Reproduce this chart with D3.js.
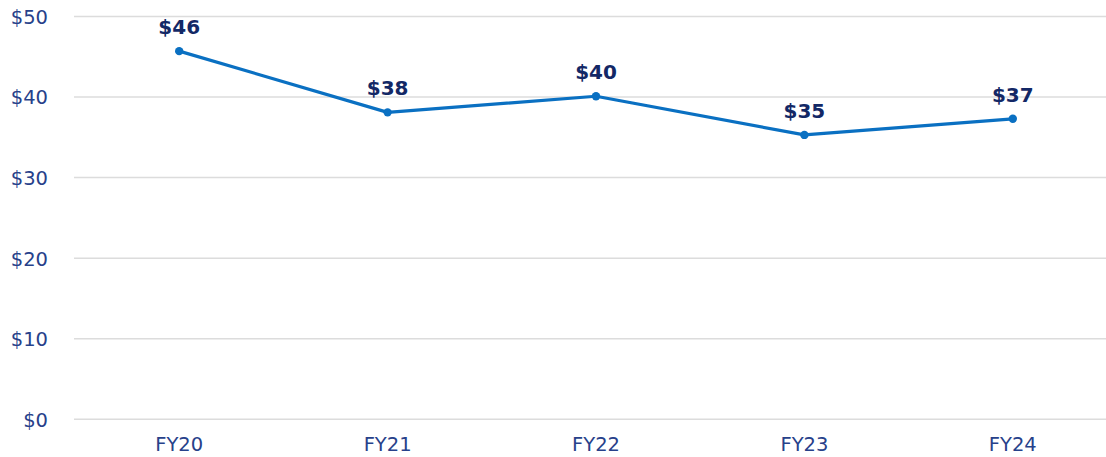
<!DOCTYPE html>
<html>
<head>
<meta charset="utf-8">
<script src="https://cdn.jsdelivr.net/npm/d3@7"></script>
<style>
  html, body { margin: 0; padding: 0; background: #fff; }
  svg { display: block; }
  .tick text { font-family: "DejaVu Sans", Verdana, sans-serif; fill: #27418a; }
  .label { font-family: "DejaVu Sans", Verdana, sans-serif; font-weight: bold; fill: #132866; }
</style>
</head>
<body>
<svg width="1106" height="457"></svg>
<script>
var years = ["FY20", "FY21", "FY22", "FY23", "FY24"];
var costs = [45.7, 38.1, 40.1, 35.3, 37.3];
var labels = ["$46", "$38", "$40", "$35", "$37"];
var yTicks = [0, 10, 20, 30, 40, 50];

var svg = d3.select("svg");
var width = 1106, height = 457;

var x = d3.scaleBand().domain(years).range([75, 1117]);
var y = d3.scaleLinear().domain([0, 50]).range([419.3, 16.5]);

function cx(d) { return x(d) + x.bandwidth() / 2; }

// gridlines
svg.append("g")
  .selectAll("line")
  .data(yTicks)
  .enter().append("line")
  .attr("x1", 74).attr("x2", width)
  .attr("y1", function (d) { return y(d); })
  .attr("y2", function (d) { return y(d); })
  .attr("stroke", "#dcdcdc")
  .attr("stroke-width", 1.5);

// y axis labels
var yAxis = svg.append("g")
  .attr("transform", "translate(48,0)")
  .call(d3.axisLeft(y).tickValues(yTicks).tickSize(0).tickPadding(0)
    .tickFormat(function (d) { return "$" + d; }));
yAxis.select(".domain").remove();
yAxis.selectAll("text").attr("font-size", 19.5).attr("dy", "0.35em");

// x axis labels
var xAxis = svg.append("g")
  .attr("transform", "translate(0,437)")
  .call(d3.axisBottom(x).tickSize(0).tickPadding(0));
xAxis.select(".domain").remove();
xAxis.selectAll("text").attr("font-size", 19.5).attr("dy", "0.72em");

var pts = years.map(function (d, i) { return { year: d, value: costs[i], label: labels[i] }; });

var line = d3.line()
  .x(function (d) { return cx(d.year); })
  .y(function (d) { return y(d.value); });

svg.append("path")
  .datum(pts)
  .attr("d", line)
  .attr("fill", "none")
  .attr("stroke", "#0a70c2")
  .attr("stroke-width", 3.2)
  .attr("stroke-linejoin", "round");

svg.append("g")
  .selectAll("circle")
  .data(pts)
  .enter().append("circle")
  .attr("cx", function (d) { return cx(d.year); })
  .attr("cy", function (d) { return y(d.value); })
  .attr("r", 4.2)
  .attr("fill", "#0a70c2");

svg.append("g")
  .selectAll("text")
  .data(pts)
  .enter().append("text")
  .attr("class", "label")
  .attr("x", function (d) { return cx(d.year); })
  .attr("y", function (d) { return y(d.value) - 17; })
  .attr("text-anchor", "middle")
  .attr("font-size", 20)
  .text(function (d) { return d.label; });
</script>
</body>
</html>
